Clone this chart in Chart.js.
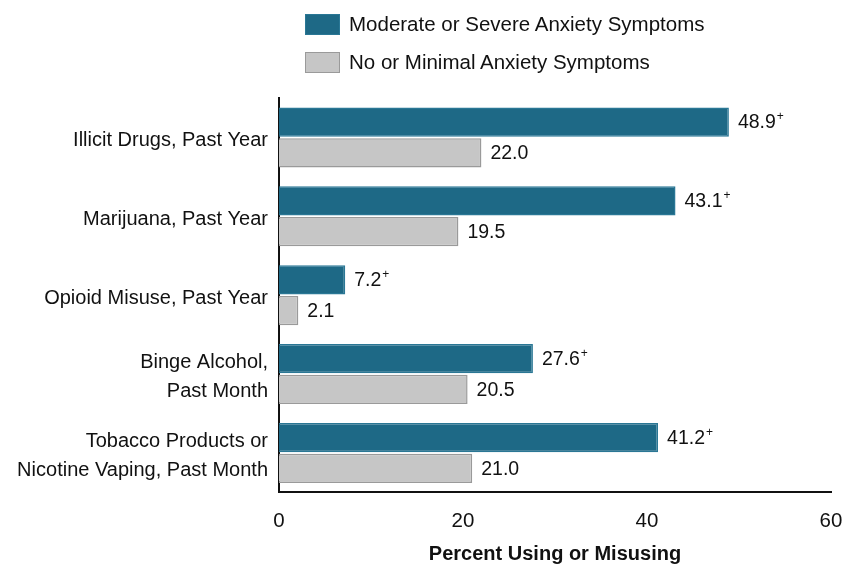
<!DOCTYPE html>
<html>
<head>
<meta charset="utf-8">
<script src="https://cdn.jsdelivr.net/npm/chart.js@4.4.1/dist/chart.umd.min.js"></script>
<style>
  html, body { margin: 0; padding: 0; background: #fff; }
  #wrap { position: relative; width: 852px; height: 571px; }
  #legend { position: absolute; left: 305px; top: 5px; font-family: "Liberation Sans Narrow", "Arial Narrow", "Liberation Sans", sans-serif; font-size: 20.5px; color: #111; }
  .item { display: flex; align-items: center; height: 38px; }
  .box { width: 35px; height: 21px; margin-right: 9px; box-sizing: border-box; }
</style>
</head>
<body>
<div id="wrap">
  <canvas id="chart" width="852" height="571"></canvas>
  <div id="legend"></div>
</div>
<script>
const FONT = '"Liberation Sans Narrow", "Arial Narrow", "Liberation Sans", sans-serif';

const categories = [
  ["Illicit Drugs, Past Year"],
  ["Marijuana, Past Year"],
  ["Opioid Misuse, Past Year"],
  ["Binge Alcohol,", "Past Month"],
  ["Tobacco Products or", "Nicotine Vaping, Past Month"]
];
const seriesNames = ["Moderate or Severe Anxiety Symptoms", "No or Minimal Anxiety Symptoms"];
const moderateSevere = [48.9, 43.1, 7.2, 27.6, 41.2];
const noneMinimal = [22.0, 19.5, 2.1, 20.5, 21.0];
// "+" marks shown next to the first series
const significant = [true, true, true, true, true];
const xTicks = [0, 20, 40, 60];

const TEAL = "#1e6986";
const GRAY = "#c6c6c6";

// legend as html
const legendEl = document.getElementById("legend");
[[TEAL, "#2a7795"], [GRAY, "#9a9a9a"]].forEach((c, i) => {
  const row = document.createElement("div");
  row.className = "item";
  row.innerHTML = `<span class="box" style="background:${c[0]};border:1.5px solid ${c[1]}"></span><span>${seriesNames[i]}</span>`;
  legendEl.appendChild(row);
});

// value labels to the right of each bar
const valueLabels = {
  id: "valueLabels",
  afterDatasetsDraw(chart) {
    const ctx = chart.ctx;
    ctx.save();
    ctx.fillStyle = "#111";
    ctx.textBaseline = "middle";
    chart.data.datasets.forEach((ds, di) => {
      chart.getDatasetMeta(di).data.forEach((bar, i) => {
        const txt = ds.data[i].toFixed(1);
        const x = bar.x + 9;
        const y = bar.y + 1;
        ctx.font = `19.5px ${FONT}`;
        ctx.textAlign = "left";
        ctx.fillText(txt, x, y);
        if (di === 0 && significant[i]) {
          const w = ctx.measureText(txt).width;
          ctx.font = `12px ${FONT}`;
          ctx.fillText("+", x + w + 1, y - 6);
        }
      });
    });
    ctx.restore();
  }
};

new Chart(document.getElementById("chart"), {
  type: "bar",
  data: {
    labels: categories,
    datasets: [
      { label: seriesNames[0], data: moderateSevere, backgroundColor: TEAL, borderColor: "#2a7795", borderWidth: 1.5, borderSkipped: "left" },
      { label: seriesNames[1], data: noneMinimal, backgroundColor: GRAY, borderColor: "#9a9a9a", borderWidth: 1.5, borderSkipped: "left" }
    ]
  },
  options: {
    indexAxis: "y",
    responsive: false,
    animation: false,
    devicePixelRatio: 1,
    layout: { padding: { top: 98, right: 21, left: 0, bottom: 2 } },
    datasets: { bar: { categoryPercentage: 0.78, barPercentage: 0.95 } },
    plugins: { legend: { display: false }, tooltip: { enabled: false } },
    scales: {
      x: {
        min: 0,
        max: 60,
        afterBuildTicks(axis) { axis.ticks = xTicks.map(v => ({ value: v })); },
        afterFit(axis) { axis.paddingLeft = 0; axis.paddingRight = 0; },
        grid: { display: false, drawTicks: false },
        border: { display: true, color: "#111", width: 2 },
        ticks: { color: "#111", font: { family: FONT, size: 20.5 }, padding: 17, maxRotation: 0 },
        title: { display: true, text: "Percent Using or Misusing", color: "#111", font: { family: FONT, size: 20, weight: "bold" }, padding: { top: -9, bottom: 3 } }
      },
      y: {
        afterFit(axis) { axis.width = 279; },
        grid: { display: false, drawTicks: false },
        border: { display: true, color: "#111", width: 2 },
        ticks: { color: "#111", font: { family: FONT, size: 20, lineHeight: 1.45 }, padding: 11, labelOffset: 3 }
      }
    }
  },
  plugins: [valueLabels]
});
</script>
</body>
</html>
